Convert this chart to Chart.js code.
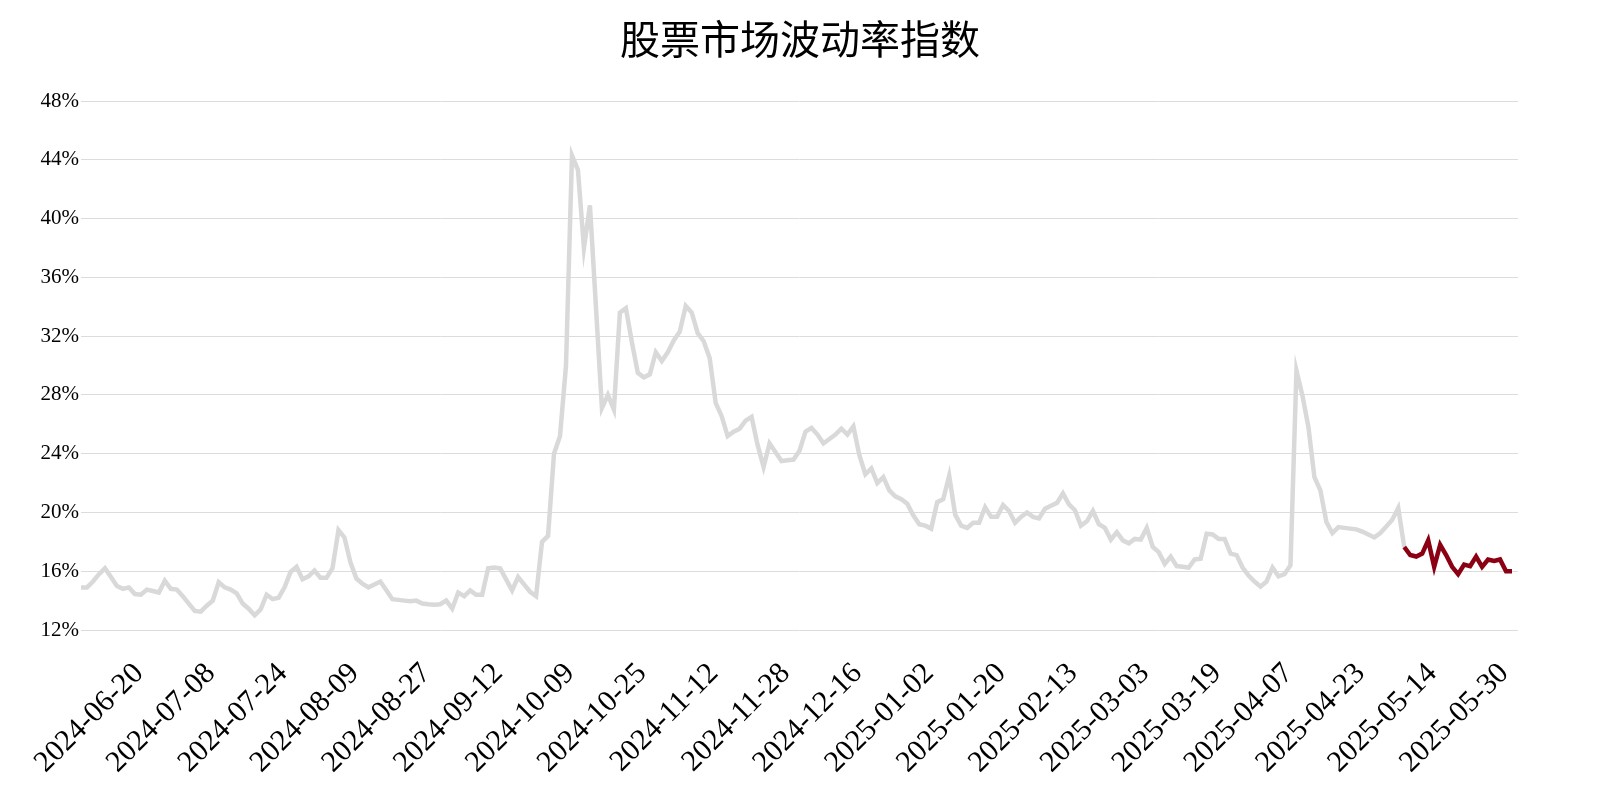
<!DOCTYPE html>
<html>
<head>
<meta charset="utf-8">
<title>股票市场波动率指数</title>
<script src="https://cdn.jsdelivr.net/npm/chart.js@4"></script>
<style>
    body { margin: 0; background: #ffffff; }
    #wrap { width: 1600px; height: 800px; }
</style>
</head>
<body>
<div id="wrap"><canvas id="volChart" width="1600" height="800"></canvas></div>
<script>
// trading days, one line per month
const dates = [
    '2024-06-20','2024-06-21','2024-06-24','2024-06-25','2024-06-26','2024-06-27','2024-06-28',
    '2024-07-01','2024-07-02','2024-07-03','2024-07-04','2024-07-05','2024-07-08','2024-07-09','2024-07-10','2024-07-11','2024-07-12','2024-07-15','2024-07-16','2024-07-17','2024-07-18','2024-07-19','2024-07-22','2024-07-23','2024-07-24','2024-07-25','2024-07-26','2024-07-29','2024-07-30','2024-07-31',
    '2024-08-01','2024-08-02','2024-08-05','2024-08-06','2024-08-07','2024-08-08','2024-08-09','2024-08-12','2024-08-13','2024-08-14','2024-08-15','2024-08-16','2024-08-19','2024-08-20','2024-08-21','2024-08-22','2024-08-23','2024-08-26','2024-08-27','2024-08-28','2024-08-29','2024-08-30',
    '2024-09-02','2024-09-03','2024-09-04','2024-09-05','2024-09-06','2024-09-09','2024-09-10','2024-09-11','2024-09-12','2024-09-13','2024-09-18','2024-09-19','2024-09-20','2024-09-23','2024-09-24','2024-09-25','2024-09-26','2024-09-27','2024-09-30',
    '2024-10-08','2024-10-09','2024-10-10','2024-10-11','2024-10-14','2024-10-15','2024-10-16','2024-10-17','2024-10-18','2024-10-21','2024-10-22','2024-10-23','2024-10-24','2024-10-25','2024-10-28','2024-10-29','2024-10-30','2024-10-31',
    '2024-11-01','2024-11-04','2024-11-05','2024-11-06','2024-11-07','2024-11-08','2024-11-11','2024-11-12','2024-11-13','2024-11-14','2024-11-15','2024-11-18','2024-11-19','2024-11-20','2024-11-21','2024-11-22','2024-11-25','2024-11-26','2024-11-27','2024-11-28','2024-11-29',
    '2024-12-02','2024-12-03','2024-12-04','2024-12-05','2024-12-06','2024-12-09','2024-12-10','2024-12-11','2024-12-12','2024-12-13','2024-12-16','2024-12-17','2024-12-18','2024-12-19','2024-12-20','2024-12-23','2024-12-24','2024-12-25','2024-12-26','2024-12-27','2024-12-30','2024-12-31',
    '2025-01-02','2025-01-03','2025-01-06','2025-01-07','2025-01-08','2025-01-09','2025-01-10','2025-01-13','2025-01-14','2025-01-15','2025-01-16','2025-01-17','2025-01-20','2025-01-21','2025-01-22','2025-01-23','2025-01-24','2025-01-27',
    '2025-02-05','2025-02-06','2025-02-07','2025-02-10','2025-02-11','2025-02-12','2025-02-13','2025-02-14','2025-02-17','2025-02-18','2025-02-19','2025-02-20','2025-02-21','2025-02-24','2025-02-25','2025-02-26','2025-02-27','2025-02-28',
    '2025-03-03','2025-03-04','2025-03-05','2025-03-06','2025-03-07','2025-03-10','2025-03-11','2025-03-12','2025-03-13','2025-03-14','2025-03-17','2025-03-18','2025-03-19','2025-03-20','2025-03-21','2025-03-24','2025-03-25','2025-03-26','2025-03-27','2025-03-28','2025-03-31',
    '2025-04-01','2025-04-02','2025-04-03','2025-04-07','2025-04-08','2025-04-09','2025-04-10','2025-04-11','2025-04-14','2025-04-15','2025-04-16','2025-04-17','2025-04-18','2025-04-21','2025-04-22','2025-04-23','2025-04-24','2025-04-25','2025-04-28','2025-04-29','2025-04-30',
    '2025-05-06','2025-05-07','2025-05-08','2025-05-09','2025-05-12','2025-05-13','2025-05-14','2025-05-15','2025-05-16','2025-05-19','2025-05-20','2025-05-21','2025-05-22','2025-05-23','2025-05-26','2025-05-27','2025-05-28','2025-05-29','2025-05-30',
    '2025-06-03','2025-06-04','2025-06-05','2025-06-06','2025-06-09','2025-06-10','2025-06-11','2025-06-12','2025-06-13','2025-06-16','2025-06-17'
];

// volatility in %
const history = [
    14.9, 14.9, 15.3, 15.8, 16.2, 15.6, 15.0, 14.8, 14.9, 14.45,
    14.4, 14.75, 14.65, 14.55, 15.35, 14.8, 14.75, 14.3, 13.8, 13.3,
    13.25, 13.65, 14.0, 15.25, 14.9, 14.75, 14.5, 13.8, 13.45, 13.0,
    13.4, 14.4, 14.1, 14.2, 14.9, 15.95, 16.3, 15.45, 15.65, 16.05,
    15.55, 15.55, 16.2, 18.8, 18.3, 16.6, 15.5, 15.15, 14.9, 15.1,
    15.3, 14.7, 14.1, 14.05, 14.0, 13.95, 14.0, 13.8, 13.75, 13.72,
    13.75, 14.0, 13.45, 14.55, 14.3, 14.7, 14.4, 14.4, 16.2, 16.25,
    16.2, 15.45, 14.7, 15.6, 15.1, 14.6, 14.3, 18.0, 18.4, 24.0,
    25.2, 30.0, 44.3, 43.3, 38.0, 40.9, 34.0, 27.1, 28.0, 27.0,
    33.6, 33.9, 31.6, 29.5, 29.2, 29.4, 30.9, 30.3, 30.9, 31.7,
    32.3, 34.05, 33.6, 32.2, 31.65, 30.5, 27.45, 26.55, 25.2, 25.5,
    25.7, 26.25, 26.5, 24.6, 23.1, 24.7, 24.1, 23.5, 23.55, 23.6,
    24.2, 25.5, 25.75, 25.3, 24.7, 25.0, 25.3, 25.7, 25.3, 25.85,
    23.9, 22.6, 23.0, 22.0, 22.4, 21.5, 21.1, 20.9, 20.6, 19.8,
    19.2, 19.1, 18.9, 20.7, 20.9, 22.5, 19.85, 19.1, 18.95, 19.3,
    19.3, 20.35, 19.7, 19.7, 20.5, 20.1, 19.3, 19.7, 20.0, 19.7,
    19.6, 20.25, 20.45, 20.65, 21.3, 20.55, 20.15, 19.1, 19.4, 20.1,
    19.2, 18.95, 18.15, 18.65, 18.1, 17.9, 18.2, 18.15, 18.95, 17.65,
    17.3, 16.5, 17.0, 16.35, 16.3, 16.25, 16.8, 16.85, 18.55, 18.5,
    18.2, 18.2, 17.2, 17.1, 16.25, 15.7, 15.3, 14.95, 15.3, 16.25,
    15.65, 15.8, 16.4, 29.65, 27.95, 25.8, 22.4, 21.5, 19.35, 18.6,
    19.0, 18.95, 18.9, 18.85, 18.7, 18.5, 18.3, 18.6, 19.05, 19.5,
    20.3
];

// most recent stretch, drawn in red
const recent = [
    17.65, 17.1, 17.0, 17.2, 18.1, 16.3, 17.8, 17.1, 16.3, 15.8,
    16.45, 16.35, 17.0, 16.3, 16.8, 16.7, 16.8, 16.0, 16.0
];

const yTicks = [12, 16, 20, 24, 28, 32, 36, 40, 44, 48];
const labelEvery = 12;

const greyColor = '#d9d9d9';
const redColor = '#8b0013';

// one empty slot after the last day, the axis runs one step past the data
const labels = dates.concat(['']);
const greyData = history.concat([recent[0]]);
while (greyData.length < labels.length) greyData.push(null);
const redData = [];
for (let i = 0; i < labels.length; i++) {
    const k = i - history.length;
    redData.push(k >= 0 && k < recent.length ? recent[k] : null);
}

const ctx = document.getElementById('volChart').getContext('2d');
new Chart(ctx, {
    type: 'line',
    data: {
        labels: labels,
        datasets: [{
            label: '近期',
            data: redData,
            borderColor: redColor,
            borderWidth: 4.5,
            pointRadius: 0,
            tension: 0,
            order: 0
        }, {
            label: '波动率',
            data: greyData,
            borderColor: greyColor,
            borderWidth: 4.5,
            pointRadius: 0,
            tension: 0,
            order: 1
        }]
    },
    options: {
        responsive: false,
        animation: false,
        devicePixelRatio: 1,
        layout: { padding: 0 },
        plugins: {
            legend: { display: false },
            tooltip: { enabled: false },
            title: {
                display: true,
                text: '股票市场波动率指数',
                color: '#000000',
                font: { family: '"Noto Sans CJK SC", sans-serif', size: 40, weight: 'normal', lineHeight: 1.2 },
                padding: { top: 15, bottom: 38 }
            }
        },
        scales: {
            x: {
                type: 'category',
                offset: false,
                grid: { display: false, drawTicks: false },
                border: { display: false },
                ticks: {
                    autoSkip: false,
                    minRotation: 45,
                    maxRotation: 45,
                    labelOffset: 58,
                    padding: 26,
                    color: '#000000',
                    font: { family: '"Liberation Serif", serif', size: 30 },
                    callback: function(value, index) {
                        return index % labelEvery === 0 ? this.getLabelForValue(value) : null;
                    }
                },
                afterFit: function(scale) {
                    scale.height = 170;
                    scale.paddingLeft = 0;
                    scale.paddingRight = 0;
                }
            },
            y: {
                min: yTicks[0],
                max: yTicks[yTicks.length - 1],
                grid: { color: '#dcdcdc', lineWidth: 1, drawTicks: false },
                border: { display: false },
                afterBuildTicks: function(scale) {
                    scale.ticks = yTicks.map(v => ({ value: v }));
                },
                ticks: {
                    padding: 2,
                    color: '#000000',
                    font: { family: '"Liberation Serif", serif', size: 21 },
                    callback: value => value + '%'
                },
                afterFit: function(scale) {
                    scale.width = 81;
                }
            },
            // empty right margin so the title stays centred on the page
            yRight: {
                axis: 'y',
                position: 'right',
                grid: { display: false, drawTicks: false },
                border: { display: false },
                ticks: { display: false },
                afterFit: function(scale) {
                    scale.width = 82;
                }
            }
        }
    }
});
</script>
</body>
</html>
